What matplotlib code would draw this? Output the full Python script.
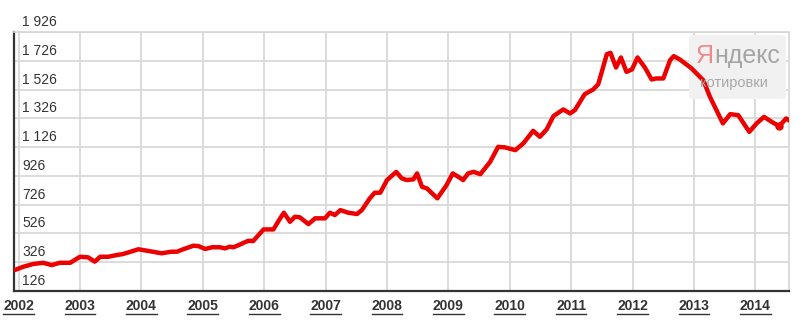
import matplotlib
matplotlib.use("Agg")
import matplotlib.pyplot as plt
from matplotlib.lines import Line2D
from matplotlib.patches import FancyBboxPatch

# ---- data (decimal year, USD) ----
years = [2001.94, 2002.08, 2002.24, 2002.40, 2002.54, 2002.67, 2002.84, 2003.00,
         2003.13, 2003.24, 2003.33, 2003.46, 2003.60, 2003.70, 2003.81, 2003.95,
         2004.09, 2004.33, 2004.49, 2004.58, 2004.68, 2004.85, 2004.93, 2005.04,
         2005.15, 2005.28, 2005.36, 2005.44, 2005.50, 2005.61, 2005.74, 2005.82,
         2005.99, 2006.15, 2006.26, 2006.32, 2006.42, 2006.50, 2006.58, 2006.72,
         2006.83, 2006.99, 2007.07, 2007.15, 2007.24, 2007.37, 2007.51, 2007.59,
         2007.72, 2007.80, 2007.89, 2008.00, 2008.15, 2008.24, 2008.32, 2008.43,
         2008.49, 2008.57, 2008.65, 2008.82, 2008.97, 2009.07, 2009.16, 2009.24,
         2009.32, 2009.41, 2009.52, 2009.68, 2009.81, 2009.92, 2010.09, 2010.22,
         2010.38, 2010.49, 2010.60, 2010.71, 2010.87, 2010.98, 2011.06, 2011.22,
         2011.36, 2011.44, 2011.58, 2011.64, 2011.73, 2011.81, 2011.90, 2011.99,
         2012.08, 2012.20, 2012.31, 2012.38, 2012.50, 2012.61, 2012.67, 2012.77,
         2012.96, 2013.15, 2013.26, 2013.47, 2013.59, 2013.72, 2013.90, 2014.02,
         2014.14, 2014.29, 2014.39, 2014.50, 2014.56]
prices = [272, 295, 314, 322, 306, 322, 322, 364,
          360, 330, 364, 364, 376, 383, 397, 416,
          406, 388, 399, 399, 416, 441, 438, 418,
          430, 430, 422, 434, 430, 450, 475, 473,
          554, 554, 631, 670, 607, 642, 638, 591,
          631, 631, 670, 654, 688, 670, 661, 688,
          770, 809, 809, 897, 954, 909, 897, 902,
          943, 850, 839, 770, 862, 943, 920, 897,
          943, 954, 938, 1024, 1128, 1124, 1105, 1152,
          1239, 1198, 1249, 1341, 1388, 1360, 1383, 1494,
          1527, 1563, 1772, 1781, 1679, 1749, 1649, 1666,
          1749, 1679, 1596, 1603, 1603, 1730, 1758, 1735,
          1673, 1591, 1475, 1291, 1355, 1348, 1232, 1291,
          1336, 1295, 1272, 1325, 1309]
marker_index = [106]

year_ticks = list(range(2002, 2015))
year_labels = [str(y) for y in year_ticks]
y_ticks = [126, 326, 526, 726, 926, 1126, 1326, 1526, 1726, 1926]
y_labels = ["126", "326", "526", "726", "926", "1 126", "1 326", "1 526", "1 726", "1 926"]

TEXT = "#333333"
GRID = "#d6d6d6"

plt.rcParams["font.family"] = ["Liberation Sans", "DejaVu Sans"]

fig = plt.figure(figsize=(8, 3.22), dpi=100)
W, H = 800, 322
ax = fig.add_axes([14 / W, 31 / H, 775 / W, 259 / H])

ax.set_xlim(2001.925, 2014.547)
ax.set_ylim(126, 1926)

# grid
ax.set_yticks(y_ticks)
ax.set_xticks(year_ticks)
ax.grid(True, color=GRID, linewidth=1.2)
ax.set_axisbelow(True)
ax.tick_params(axis="y", left=False, labelleft=False)
ax.tick_params(axis="x", length=0, pad=6, labelsize=10, colors=TEXT)
ax.set_xticklabels(year_labels, fontweight="bold", color=TEXT)

for s in ("top", "right"):
    ax.spines[s].set_color(GRID)
    ax.spines[s].set_linewidth(1.2)
for s in ("left", "bottom"):
    ax.spines[s].set_color("#333333")
    ax.spines[s].set_linewidth(1.6)

# y labels inside the plot just above each gridline
for v, lab in zip(y_ticks, y_labels):
    ax.annotate(lab, xy=(0, v), xycoords=("axes fraction", "data"),
                xytext=(8, 3), textcoords="offset pixels",
                ha="left", va="bottom", fontsize=10, color=TEXT,
                annotation_clip=False)

# watermark box
box = FancyBboxPatch((689 / W, (H - 99) / H), 97 / W, 64 / H,
                     boxstyle="round,pad=0,rounding_size=0.008",
                     transform=fig.transFigure, facecolor="#f1f1f1",
                     edgecolor="none", zorder=2)
ax.add_artist(box)
box.set_clip_on(False)
ya = fig.text(696 / W, (H - 56) / H, "Я", fontsize=18,
              color="#ee8a8a", ha="left", va="center", zorder=3)
ax.annotate("ндекс", xy=(1, 0.5), xycoords=ya, xytext=(0, 0),
            textcoords="offset pixels", fontsize=18, color="#a5a5a5",
            ha="left", va="center", zorder=3, annotation_clip=False)
fig.text(700 / W, (H - 83) / H, "котировки", fontsize=10.5,
         color="#a8a8a8", ha="left", va="center", zorder=3)

# the line
ax.plot(years, prices, color="#ec0000", linewidth=3.2, zorder=5,
        solid_joinstyle="round", solid_capstyle="round",
        marker="o", markersize=5, markevery=marker_index)

# underline the year labels
fig.canvas.draw()
r = fig.canvas.get_renderer()
for t in ax.get_xticklabels():
    bb = t.get_window_extent(r)
    y = bb.y0 - 1
    fig.add_artist(Line2D([bb.x0 / W, bb.x1 / W], [y / H, y / H],
                          transform=fig.transFigure, color=TEXT, linewidth=1.0))

fig.savefig("out.png", dpi=100)
